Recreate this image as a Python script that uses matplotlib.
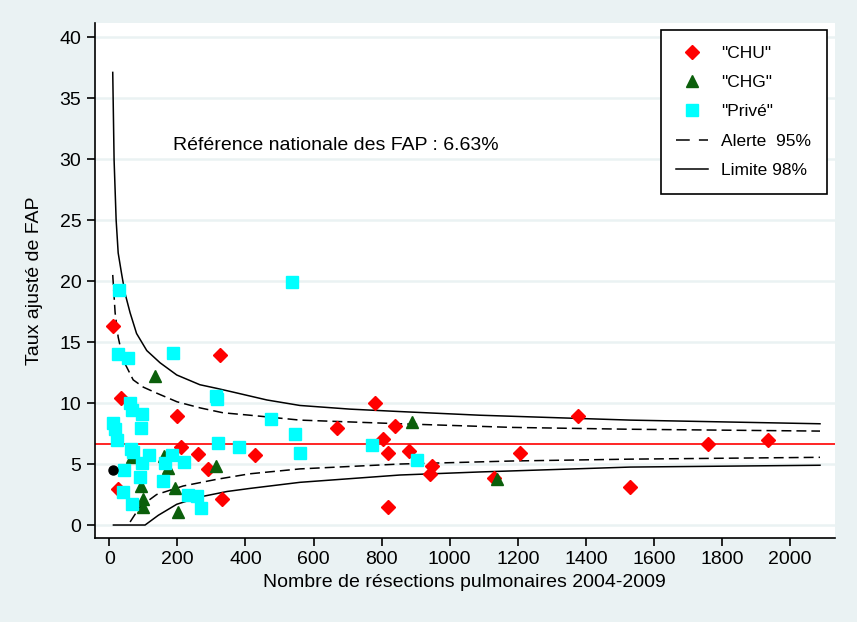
import matplotlib
matplotlib.use("Agg")
import matplotlib.pyplot as plt
from matplotlib.lines import Line2D

plt.rcParams['font.family'] = ['Liberation Sans', 'DejaVu Sans']

# ---- data ----
chu_n = [34, 199, 211, 261, 290, 331, 26, 11, 325, 669, 781, 428, 804, 819, 839,
         819, 1377, 880, 948, 942, 1206, 1130, 1530, 1759, 1935]
chu_v = [10.4, 8.9, 6.4, 5.8, 4.6, 2.1, 2.95, 16.3, 13.9, 7.95, 10.0, 5.75, 7.05, 5.9, 8.1,
         1.5, 8.9, 6.05, 4.8, 4.2, 5.9, 3.85, 3.1, 6.65, 6.95]

chg_n = [67, 161, 173, 313, 93, 193, 99, 99, 202, 134, 889, 1139]
chg_v = [5.6, 5.65, 4.7, 4.8, 3.2, 3.0, 2.1, 1.5, 1.1, 12.2, 8.45, 3.8]

prive_n = [61, 67, 96, 93, 11, 17, 23, 64, 70, 117, 96, 184, 164, 220, 43, 90, 158,
           40, 67, 231, 257, 269, 313, 316, 28, 26, 55, 187, 475, 546, 560, 319, 381,
           772, 904, 537]
prive_v = [10.0, 9.4, 9.1, 7.95, 8.4, 7.9, 7.0, 6.2, 6.0, 5.7, 5.1, 5.7, 5.1, 5.2, 4.5, 3.9, 3.6,
           2.7, 1.7, 2.5, 2.4, 1.4, 10.6, 10.3, 19.3, 14.0, 13.7, 14.1, 8.7, 7.5, 5.9, 6.7, 6.4,
           6.6, 5.3, 19.9]

other_n = [11]
other_v = [4.5]

reference = 6.63

up98_n = [10, 14, 20, 26, 36, 46, 61, 80, 110, 149, 198, 266, 316, 363, 463, 560, 707,
          854, 1089, 1530, 2088]
up98_v = [37.1, 29.9, 25.0, 22.3, 20.6, 19.0, 17.4, 15.7, 14.3, 13.3, 12.3, 11.5, 11.2,
          10.9, 10.25, 9.8, 9.5, 9.3, 9.0, 8.6, 8.3]

up95_n = [10, 17, 26, 41, 70, 100, 140, 199, 267, 334, 413, 560, 854, 1186, 1530, 2088]
up95_v = [20.5, 17.4, 15.4, 13.5, 11.9, 11.3, 10.8, 10.1, 9.6, 9.2, 9.0, 8.6, 8.3, 8.0, 7.85, 7.7]

lo95_n = [61, 90, 139, 217, 316, 413, 560, 854, 1186, 1530, 2088]
lo95_v = [0.25, 1.5, 2.5, 3.2, 3.75, 4.2, 4.6, 5.0, 5.25, 5.4, 5.55]

lo98_n = [12, 105, 144, 198, 266, 346, 413, 560, 854, 1089, 1530, 2088]
lo98_v = [0.0, 0.0, 0.8, 1.7, 2.3, 2.75, 3.0, 3.5, 4.1, 4.35, 4.75, 4.9]

xticks = list(range(0, 2001, 200))
yticks = list(range(0, 41, 5))

# ---- figure ----
bg = '#EAF2F3'
fig = plt.figure(figsize=(8.57, 6.22), dpi=100, facecolor=bg)
ax = fig.add_axes([0.1103, 0.1350, 0.9743 - 0.1103, 0.9638 - 0.1350])
ax.set_facecolor('white')

ax.set_xlim(-43.5, 2132)
ax.set_ylim(-1.066, 41.19)

for s in ['top', 'right']:
    ax.spines[s].set_visible(False)
for s in ['left', 'bottom']:
    ax.spines[s].set_color('black')
    ax.spines[s].set_linewidth(1.2)

ax.set_yticks(yticks)
ax.set_xticks(xticks)
ax.tick_params(axis='both', direction='out', length=6, width=1.2, labelsize=14, colors='black')
ax.yaxis.grid(True, color=bg, linewidth=1.8)
ax.set_axisbelow(True)

ax.axhline(reference, color='red', linewidth=1.2, zorder=2)

dash = (0, (6.5, 3.3))
ax.plot(up98_n, up98_v, color='black', lw=1.1, zorder=2)
ax.plot(lo98_n, lo98_v, color='black', lw=1.1, zorder=2)
ax.plot(up95_n, up95_v, color='black', lw=1.1, linestyle=dash, zorder=2)
ax.plot(lo95_n, lo95_v, color='black', lw=1.1, linestyle=dash, zorder=2)

ax.plot(chu_n, chu_v, linestyle='none', marker='D', ms=7.5, color='red', mec='red', zorder=3)
ax.plot(chg_n, chg_v, linestyle='none', marker='^', ms=9, color='#0B5F0B', mec='#0B5F0B', zorder=4)
ax.plot(prive_n, prive_v, linestyle='none', marker='s', ms=8, color='#00FFFF', mec='#00FFFF', zorder=5)
ax.plot(other_n, other_v, linestyle='none', marker='o', ms=6.5, color='black', zorder=6)

ax.text(187, 31.1, 'Référence nationale des FAP : 6.63%', fontsize=14, ha='left', va='center')

ax.set_xlabel('Nombre de résections pulmonaires 2004-2009', fontsize=14, labelpad=4)
ax.set_ylabel('Taux ajusté de FAP', fontsize=14, labelpad=12)

handles = [
    Line2D([], [], linestyle='none', marker='D', ms=7.5, color='red'),
    Line2D([], [], linestyle='none', marker='^', ms=9, color='#0B5F0B'),
    Line2D([], [], linestyle='none', marker='s', ms=8, color='#00FFFF'),
    Line2D([], [], color='black', lw=1.1, linestyle=(0, (9, 6))),
    Line2D([], [], color='black', lw=1.1),
]
labels = ['"CHU"', '"CHG"', '"Privé"', 'Alerte  95%', 'Limite 98%']
leg = fig.legend(handles, labels, loc='upper right', bbox_to_anchor=(0.965, 0.952),
                 fontsize=12.5, frameon=True, fancybox=False, edgecolor='black',
                 framealpha=1, handlelength=1.85, handletextpad=0.75, labelspacing=0.82,
                 borderpad=0.9, borderaxespad=0)
leg.get_frame().set_linewidth(1.2)

fig.savefig('out.png', dpi=100, facecolor=bg)
